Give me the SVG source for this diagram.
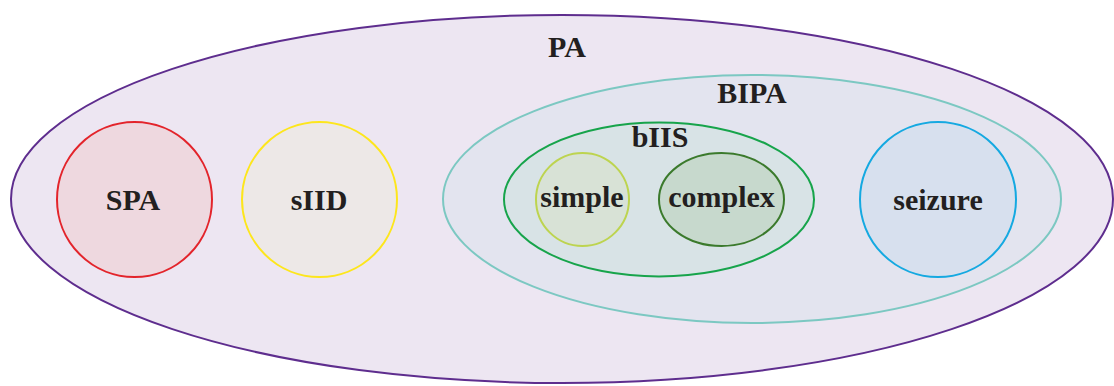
<svg xmlns="http://www.w3.org/2000/svg" width="1114" height="386" viewBox="0 0 1114 386">
<style>
text{font-family:"Liberation Serif","Times New Roman",serif;font-weight:bold;font-size:30px;fill:#231f20;text-anchor:middle}
ellipse{stroke-width:2}
</style>
<rect width="1114" height="386" fill="#ffffff"/>
<g id="PA">
<ellipse cx="562" cy="199" rx="551" ry="184" fill="#ede6f2" stroke="#5e2d8e"/>
<text x="567" y="57">PA</text>
</g>
<g id="BIPA">
<ellipse cx="752" cy="199" rx="309" ry="124" fill="#e3e4ef" stroke="#7cc8c2"/>
<text x="752" y="103">BIPA</text>
</g>
<g id="bIIS">
<ellipse cx="659" cy="199.5" rx="155" ry="77" fill="#d8e3e6" stroke="#17a44b"/>
<text x="660" y="147">bIIS</text>
</g>
<g id="simple">
<ellipse cx="582.5" cy="199.5" rx="46.5" ry="46.5" fill="#d8e2d6" stroke="#bdd44f"/>
<text x="582" y="207">simple</text>
</g>
<g id="complex">
<ellipse cx="721.5" cy="199.5" rx="62.5" ry="46.5" fill="#c7d9cd" stroke="#3b7a2c"/>
<text x="721.5" y="207">complex</text>
</g>
<g id="SPA">
<ellipse cx="134.5" cy="199.5" rx="77.5" ry="77.5" fill="#eed8df" stroke="#e3242b"/>
<text x="133" y="210">SPA</text>
</g>
<g id="sIID">
<ellipse cx="319.5" cy="199.5" rx="77.5" ry="77.5" fill="#ede8e7" stroke="#fde61c"/>
<text x="319" y="210">sIID</text>
</g>
<g id="seizure">
<ellipse cx="938" cy="199.5" rx="78" ry="77.5" fill="#d7e0ee" stroke="#15a9e1"/>
<text x="938" y="210">seizure</text>
</g>
<g id="connectors"/>
</svg>
